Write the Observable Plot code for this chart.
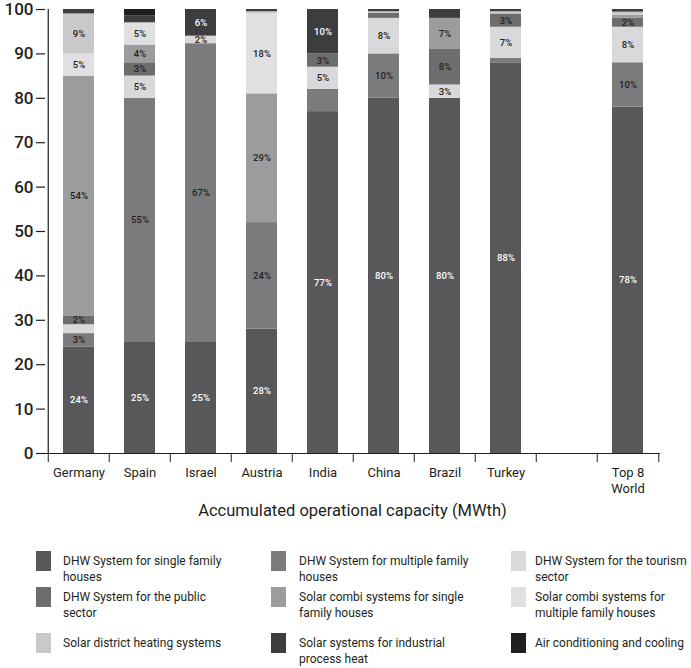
<!DOCTYPE html>
<html><head><meta charset="utf-8">
<script src="https://cdn.jsdelivr.net/npm/d3@7"></script>
<script src="https://cdn.jsdelivr.net/npm/@observablehq/plot@0.6"></script>
<style>
body{margin:0;background:#fff;font-family:Roboto,"DejaVu Sans Condensed",sans-serif;color:#231f20}
#wrap{position:relative;width:691px;height:668px;overflow:hidden}
#chart{position:absolute;left:0;top:0}
#xtitle{position:absolute;top:501px;left:0;width:691px;text-align:center;font-size:16.5px;padding-left:14px;box-sizing:border-box}
.sw{position:absolute;width:15px;height:20px}
.lab{position:absolute;font-size:12px;line-height:16px;white-space:pre}
</style></head>
<body>
<div id="wrap"><div id="chart"></div><div id="xtitle"></div><div id="legend"></div></div>
<script>
const categories = ["Germany","Spain","Israel","Austria","India","China","Brazil","Turkey","","Top 8\nWorld"];
const seriesNames = [
  "DHW System for single family\nhouses",
  "DHW System for multiple family\nhouses",
  "DHW System for the tourism\nsector",
  "DHW System for the public\nsector",
  "Solar combi systems for single\nfamily houses",
  "Solar combi systems for\nmultiple family houses",
  "Solar district heating systems",
  "Solar systems for industrial\nprocess heat",
  "Air conditioning and cooling"
];
const colors = ["#58585a","#7b7b7e","#d9d9db","#6d6d70","#9c9c9f","#e0e0e2","#c9c9cb","#3d3d3f","#1f1f21"];
// values in % per category (same order as categories)
const dhwSingle      = [24, 25, 25,   28, 77, 80,  80, 88,  0, 78];
const dhwMultiple    = [ 3, 55, 67.3, 24,  5, 10,   0,  1,  0, 10];
const dhwTourism     = [ 2,  5, 1.7,   0,  5,  8,   3,  7,  0,  8];
const dhwPublic      = [ 2,  3,  0,    0,  3, 1.1,  8,  3,  0,  2];
const combiSingle    = [54,  4,  0,   29,  0,  0,   7,  0,  0, 0.7];
const combiMultiple  = [ 5,  5,  0,   18,  0,  0,   0,  0,  0,  0];
const districtHeat   = [ 9,  0,  0,  0.5,  0, 0.4,  0, 0.5, 0, 0.7];
const industrialHeat = [ 1, 1.5, 6,  0.5, 10, 0.5,  2, 0.5, 0, 0.6];
const airCooling     = [ 0, 1.5, 0,    0,  0,  0,   0,  0,  0,  0];
const seriesValues = [dhwSingle, dhwMultiple, dhwTourism, dhwPublic, combiSingle, combiMultiple, districtHeat, industrialHeat, airCooling];
const yTicks = [0,10,20,30,40,50,60,70,80,90,100];
const xTitle = "Accumulated operational capacity (MWth)";
const hiddenLabels = [["Germany", 2], ["India", 1], ["Brazil", 7]];
const whiteTextSeries = [0, 7, 8];

const data = [];
seriesNames.forEach((s, j) => seriesValues[j].forEach((v, i) => data.push({category: categories[i], series: s, si: j, value: v})));
const isHidden = d => hiddenLabels.some(([c, s]) => c === d.category && s === d.si);
const label = d => (d.value > 1.5 && !isHidden(d)) ? Math.round(d.value) + "%" : "";

const W = 691, H = 498, mL = 45, mR = 31, mT = 9, mB = 45;
const step = (W - mL - mR) / categories.length;
const ink = "#231f20";
const font = 'Roboto,"DejaVu Sans Condensed",sans-serif';

const chart = Plot.plot({
  width: W, height: H, marginLeft: mL, marginRight: mR, marginTop: mT, marginBottom: mB,
  style: {fontFamily: font, color: ink, background: "transparent", overflow: "visible"},
  x: {domain: categories, paddingInner: 0.5, paddingOuter: 0.25, axis: null},
  y: {domain: [0, 100], axis: null},
  color: {domain: seriesNames, range: colors},
  marks: [
    Plot.barY(data, {x: "category", y: "value", fill: "series"}),
    Plot.text(data, Plot.stackY({x: "category", y: "value", z: "series",
      text: d => whiteTextSeries.includes(d.si) ? label(d) : "", fill: "white", fontSize: 9.5, fontWeight: 500})),
    Plot.text(data, Plot.stackY({x: "category", y: "value", z: "series",
      text: d => whiteTextSeries.includes(d.si) ? "" : label(d), fill: ink, fontSize: 9.5, fontWeight: 500})),
    Plot.ruleY([0], {stroke: ink, strokeWidth: 1.2}),
    Plot.ruleX([categories[0]], {y1: 0, y2: 100, dx: -step / 2, stroke: ink, strokeWidth: 1.2}),
    Plot.axisY(yTicks, {tickSize: 9, tickPadding: 3, fontSize: 17, fontWeight: 500, label: null, stroke: ink, strokeWidth: 1.2}),
    Plot.axisX(categories, {tickSize: 9, dx: -step / 2, tickFormat: () => "", label: null, stroke: ink}),
    Plot.axisX([categories[categories.length - 1]], {tickSize: 9, dx: step / 2, tickFormat: () => "", label: null, stroke: ink}),
    Plot.axisX(categories, {tickSize: 0, tickPadding: 11, fontSize: 13, fontWeight: 400, lineHeight: 1.3, label: null})
  ]
});
document.getElementById("chart").append(chart);
document.getElementById("xtitle").textContent = xTitle;

const colSw = [36, 271, 511], colTx = [63, 299, 535], rowTop = [551, 587, 633];
const legend = document.getElementById("legend");
seriesNames.forEach((s, i) => {
  const r = Math.floor(i / 3), c = i % 3;
  const sw = document.createElement("div");
  sw.className = "sw"; sw.style.left = colSw[c] + "px"; sw.style.top = rowTop[r] + "px"; sw.style.background = colors[i];
  const lb = document.createElement("div");
  lb.className = "lab"; lb.style.left = colTx[c] + "px"; lb.style.top = (rowTop[r] + 2) + "px"; lb.textContent = s;
  legend.append(sw, lb);
});
</script>
</body></html>
